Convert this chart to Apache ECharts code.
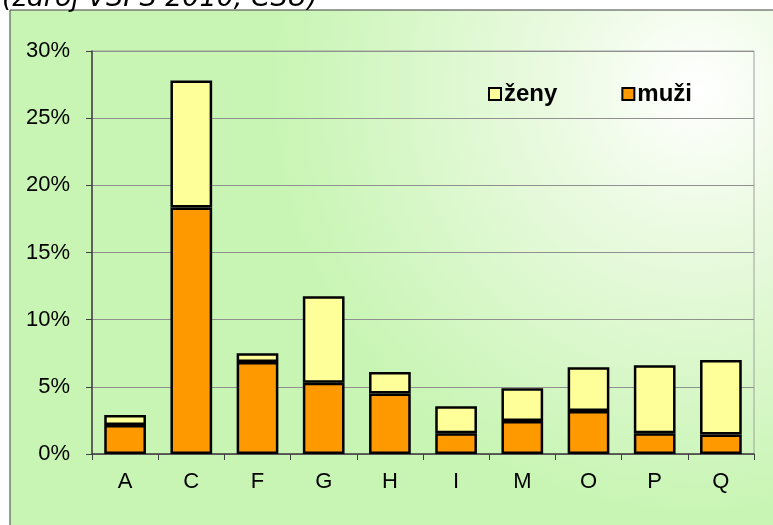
<!DOCTYPE html>
<html>
<head>
<meta charset="utf-8" />
<script src="https://cdn.jsdelivr.net/npm/echarts@6/dist/echarts.min.js" type="text/javascript"></script>
<title>zdroj VŠPS 2010</title>
<style>
html,body{margin:0;padding:0;background:#fff;}
</style>
</head>
<body>
<div id="main" style="width:773px;height:525px;"></div>
<script type="text/javascript">
// data (percent)
var categories = ['A', 'C', 'F', 'G', 'H', 'I', 'M', 'O', 'P', 'Q'];
var muzi = [2.15, 18.35, 6.85, 5.3, 4.5, 1.55, 2.45, 3.2, 1.55, 1.45];
var zeny = [0.75, 9.45, 0.65, 6.45, 1.6, 2.0, 2.45, 3.25, 5.05, 5.55];
var yTicks = [0, 5, 10, 15, 20, 25, 30];

var myChart = echarts.init(document.getElementById('main'));

var font = '"Liberation Sans", Arial, sans-serif';

var option = {
  animation: false,
  graphic: [{
    // chart area with the green background
    type: 'rect',
    z: -10,
    shape: { x: 10, y: 10, width: 780, height: 530 },
    style: {
      fill: {
        type: 'radial', x: 0.88, y: 0.15, r: 0.8,
        colorStops: [
          { offset: 0, color: '#ffffff' },
          { offset: 0.35, color: '#eafae0' },
          { offset: 1, color: '#c8f5b4' }
        ]
      },
      stroke: '#404040',
      lineWidth: 1
    }
  }, {
    type: 'text',
    left: 2,
    top: -15,
    style: {
      text: '(zdroj VŠPS 2010, ČSÚ)',
      font: 'italic 27px "DejaVu Sans", Verdana, sans-serif',
      fill: '#000'
    }
  }],
  legend: {
    left: 483,
    top: 77,
    itemWidth: 12,
    itemHeight: 12,
    itemGap: 64,
    icon: 'rect',
    data: ['ženy', 'muži'],
    textStyle: { fontFamily: font, fontWeight: 'bold', fontSize: 24, color: '#000', padding: [0, 0, 0, -2] }
  },
  grid: {
    left: 92, right: 19, top: 51, bottom: 71,
    show: true,
    borderColor: '#a0a0a0',
    borderWidth: 1,
    backgroundColor: 'transparent'
  },
  xAxis: {
    type: 'category',
    data: categories,
    axisLine: { lineStyle: { color: '#404040', width: 1.5 } },
    axisTick: { show: true, length: 6, lineStyle: { color: '#404040' } },
    axisLabel: { fontFamily: font, fontSize: 22, color: '#000', margin: 17 }
  },
  yAxis: {
    type: 'value',
    min: yTicks[0],
    max: yTicks[yTicks.length - 1],
    interval: yTicks[1] - yTicks[0],
    axisLine: { show: true, lineStyle: { color: '#404040', width: 1.5 } },
    axisTick: { show: true, length: 6, lineStyle: { color: '#404040' } },
    axisLabel: { fontFamily: font, fontSize: 22, color: '#000', margin: 22, formatter: '{value}%' },
    splitLine: { lineStyle: { color: '#909090', width: 1 } }
  },
  series: [{
    name: 'muži',
    type: 'bar',
    stack: 'all',
    barWidth: '63%',
    data: muzi,
    itemStyle: { color: '#ff9900', borderColor: '#000', borderWidth: 2.5 }
  }, {
    name: 'ženy',
    type: 'bar',
    stack: 'all',
    barWidth: '63%',
    data: zeny,
    itemStyle: { color: '#ffff99', borderColor: '#000', borderWidth: 2.5 }
  }]
};
myChart.setOption(option);
</script>
</body>
</html>
